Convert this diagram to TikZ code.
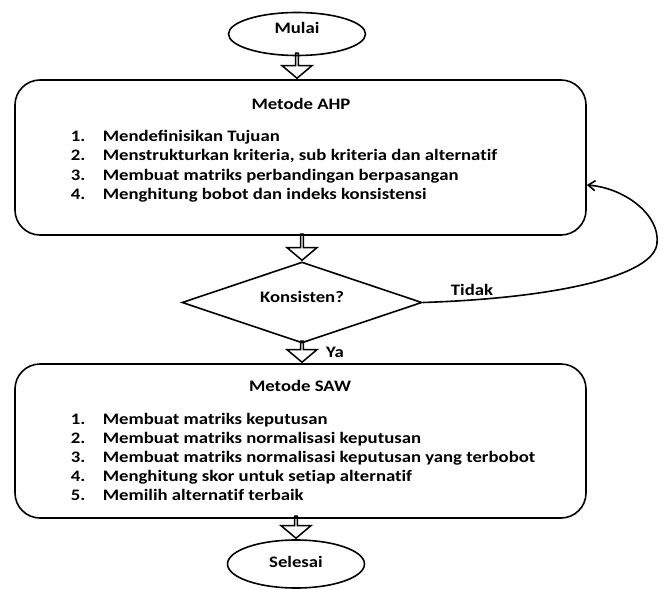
\documentclass[tikz,border=0pt]{standalone}
\usepackage{fontspec}
\setmainfont{Carlito}[FakeStretch=1.17]
\usetikzlibrary{shapes.geometric,shapes.arrows,arrows.meta}
\tikzset{
  terminal/.style={draw, ellipse, minimum width=137bp, minimum height=43bp, inner sep=0},
  stepbox/.style={draw, rectangle, rounded corners=25bp, minimum width=571bp, inner sep=0},
  decision/.style={draw, diamond, aspect=3, minimum width=240bp, minimum height=81bp, inner sep=0},
  blockarrow/.style={draw, single arrow, line width=1.5bp, rotate=-90, anchor=tip,
    minimum width=30bp, single arrow head extend=7bp, single arrow tip angle=100, inner sep=0},
  listitem/.style={anchor=base west, inner sep=0},
}
\newcommand{\itemno}[1]{\makebox[32bp][l]{#1}}
% keep t and i apart (no ligature)
\newcommand{\tinl}{t\kern0pt i}
\begin{document}
\begin{tikzpicture}[x=1bp, y=-1bp, line width=1.6bp,
    font=\fontsize{16bp}{19bp}\selectfont\bfseries]
        \useasboundingbox (0,0) rectangle (664,590);
        \node[terminal, text depth=12bp] (mulai) at (297,34) {Mulai};
        % AHP block
        \node[stepbox, minimum height=155bp] (ahp) at (300.5,157.5) {};
        \node (ahptitle) at (301,104) {Metode AHP};
        \node[listitem] (ahp1) at (70,142) {\itemno{1.}Mendefinisikan Tujuan};
        \node[listitem] (ahp2) at (70,161) {\itemno{2.}Menstrukturkan kriteria, sub kriteria dan alterna\tinl f};
        \node[listitem] (ahp3) at (70,180.5) {\itemno{3.}Membuat matriks perbandingan berpasangan};
        \node[listitem] (ahp4) at (70,199.5) {\itemno{4.}Menghitung bobot dan indeks konsistensi};
        \node[decision, text depth=11bp] (kons) at (302,302.5) {Konsisten?};
        % SAW block
        \node[stepbox, minimum height=154bp] (saw) at (300.5,441) {};
        \node (sawtitle) at (300,386) {Metode SAW};
        \node[listitem] (saw1) at (70,424) {\itemno{1.}Membuat matriks keputusan};
        \node[listitem] (saw2) at (70,443) {\itemno{2.}Membuat matriks normalisasi keputusan};
        \node[listitem] (saw3) at (70,462) {\itemno{3.}Membuat matriks normalisasi keputusan yang terbobot};
        \node[listitem] (saw4) at (70,481) {\itemno{4.}Menghitung skor untuk se\tinl ap alterna\tinl f};
        \node[listitem] (saw5) at (70,500) {\itemno{5.}Memilih alterna\tinl f terbaik};
        \node[terminal, minimum height=48bp, text depth=4bp] (selesai) at (296,564) {Selesai};
        % block arrows
        \node[blockarrow, minimum height=25bp] (arr1) at (mulai |- ahp.north) {};
        \node[blockarrow, minimum height=26bp] (arr2) at (kons.north) {};
        \node[blockarrow, minimum height=21bp] (arr3) at (kons |- saw.north) {};
        \node[blockarrow, minimum height=22bp] (arr4) at (selesai.north) {};
        \node (ya) at (335,352) {Ya};
        \node (tidak) at (472,290) {Tidak};
        % loop back
        \coordinate (loopin) at ([yshift=-27.5bp]ahp.east);
        \draw[-{Straight Barb[length=7bp,width=10bp]}] (kons.east) .. controls (560,298)
        and (655,275) .. (657,243) .. controls (660,215) and (625,188) .. (loopin);
    \end{tikzpicture}
\end{document}
